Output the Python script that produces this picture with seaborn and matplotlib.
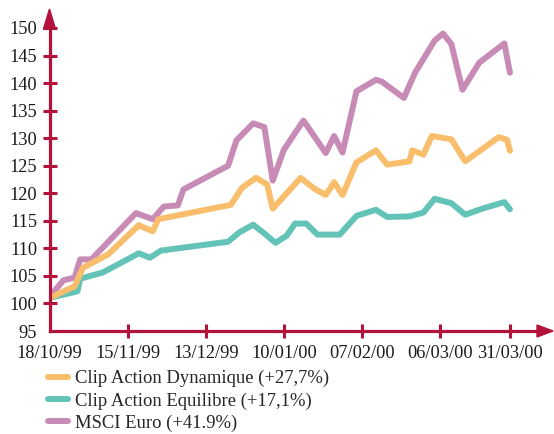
import matplotlib
matplotlib.use('Agg')
import matplotlib.pyplot as plt
from matplotlib.lines import Line2D
from matplotlib.patches import Polygon
import seaborn as sns
import pandas as pd

start = pd.Timestamp('1999-10-18')

# day offsets from 18/10/99 and index values
dyn_days = [0, 9, 12, 21, 32, 37, 39, 65, 69, 74, 78, 80, 90, 95, 99, 102, 105, 110,
            117, 121, 129, 130, 134, 137, 144, 149, 161, 164, 165]
dyn_vals = [101.0, 103.1, 106.5, 108.9, 114.2, 113.1, 115.3, 117.9, 121.0, 122.8, 121.6, 117.2,
            122.8, 120.8, 119.7, 122.0, 119.7, 125.6, 127.8, 125.2, 125.8, 127.8, 127.0, 130.4,
            129.8, 125.8, 130.2, 129.7, 127.7]

equ_days = [0, 10, 11, 19, 32, 36, 40, 64, 68, 73, 77, 81, 85, 88, 92, 96, 104, 110,
            117, 121, 129, 134, 138, 144, 149, 155, 163, 165]
equ_vals = [101.0, 102.2, 104.5, 105.6, 109.1, 108.3, 109.6, 111.2, 112.9, 114.3, 112.7, 111.0,
            112.3, 114.5, 114.5, 112.5, 112.5, 115.9, 117.0, 115.7, 115.8, 116.5, 119.0, 118.2,
            116.1, 117.2, 118.4, 117.1]

msci_days = [0, 5, 9, 11, 15, 31, 37, 41, 46, 48, 64, 67, 73, 77, 80, 84, 91, 99, 102,
             105, 110, 117, 119, 127, 131, 138, 141, 144, 148, 154, 163, 165]
msci_vals = [101.2, 104.2, 104.7, 108.0, 108.0, 116.4, 115.3, 117.6, 117.8, 120.7, 125.0,
             129.6, 132.7, 132.0, 122.3, 127.9, 133.2, 127.3, 130.4, 127.4, 138.5, 140.6,
             140.3, 137.3, 141.9, 147.7, 149.0, 147.1, 138.8, 143.7, 147.2, 141.9]

series_names = ['Clip Action Dynamique (+27,7%)', 'Clip Action Equilibre (+17,1%)',
                'MSCI Euro (+41.9%)']
colors = ['#F9BE6B', '#63C3B7', '#C78BB6']

x_tick_labels = ['18/10/99', '15/11/99', '13/12/99', '10/01/00', '07/02/00', '06/03/00', '31/03/00']
x_tick_dates = pd.to_datetime(x_tick_labels, format='%d/%m/%y')
y_ticks = list(range(95, 151, 5))

frames = []
for name, d, v in zip(series_names, [dyn_days, equ_days, msci_days],
                      [dyn_vals, equ_vals, msci_vals]):
    frames.append(pd.DataFrame({'date': start + pd.to_timedelta(d, unit='D'),
                                'value': v, 'series': name}))
df = pd.concat(frames, ignore_index=True)

sns.set_style('white')
plt.rcParams['font.family'] = ['Liberation Serif', 'DejaVu Serif']

red = '#B3123C'
fig = plt.figure(figsize=(5.54, 4.34), dpi=100)
ax = fig.add_axes([49.5 / 554, 103 / 434, 487.5 / 554, 303 / 434])

sns.lineplot(data=df, x='date', y='value', hue='series', hue_order=series_names[::-1],
             palette=dict(zip(series_names, colors)), estimator=None, sort=False,
             linewidth=4.3, legend=False, ax=ax)

ax.set_xlim(start, start + pd.Timedelta(days=174.7))
ax.set_ylim(95, 150)
ax.set_xlabel('')
ax.set_ylabel('')

for s in ['top', 'right']:
    ax.spines[s].set_visible(False)
for s in ['left', 'bottom']:
    ax.spines[s].set_color(red)
    ax.spines[s].set_linewidth(2.3)

ax.set_xticks(x_tick_dates)
ax.set_xticklabels(x_tick_labels)
ax.set_yticks(y_ticks)
ax.set_yticklabels([str(t) for t in y_ticks])
ax.tick_params(axis='both', direction='inout', length=10, width=2.2, color=red,
               labelsize=13.2, labelcolor='#1a1a1a', left=True, bottom=True)
ax.tick_params(axis='y', pad=4)
ax.tick_params(axis='x', pad=5)
ax.xaxis.get_major_ticks()[0].tick1line.set_visible(False)
ax.yaxis.get_major_ticks()[0].tick1line.set_visible(False)

# arrow heads at the ends of the axes
fig.add_artist(Polygon([[5.37, 0.97], [5.53, 1.03], [5.37, 1.09]], closed=True,
                       color=red, transform=fig.dpi_scale_trans))
fig.add_artist(Polygon([[0.435, 4.05], [0.495, 4.25], [0.555, 4.05]], closed=True,
                       color=red, transform=fig.dpi_scale_trans))

handles = [Line2D([], [], color=c, linewidth=4.3) for c in colors]
fig.legend(handles, series_names, loc='upper left', bbox_to_anchor=(48 / 554, 1 - 370 / 434),
           frameon=False, fontsize=13.4, handlelength=1.1, handletextpad=0.35,
           labelspacing=0.27, borderpad=0, borderaxespad=0)

fig.savefig('out.png', dpi=100)
